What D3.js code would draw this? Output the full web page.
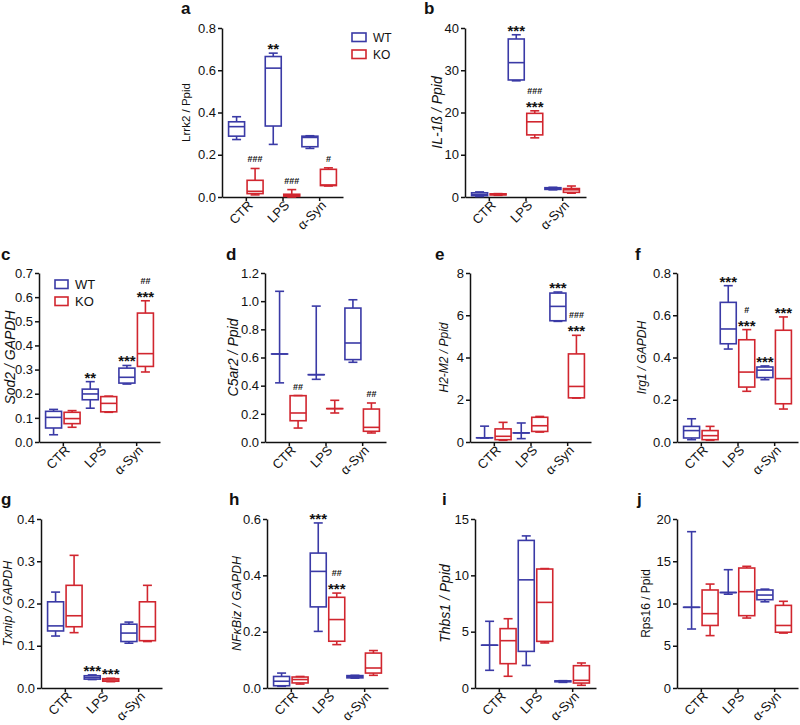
<!DOCTYPE html>
<html><head><meta charset="utf-8">
<script src="https://cdn.jsdelivr.net/npm/d3@7"></script>
<style>
body{margin:0;background:#fff;}
svg{display:block;font-family:"Liberation Sans",Arial,sans-serif;}
</style></head>
<body>
<svg id="chart" width="800" height="725"></svg>
<script>
// ---------- DATA ----------
const categories = ["CTR", "LPS", "α-Syn"];
const series = ["WT", "KO"];
const panelLetters = ["a","b","c","d","e","f","g","h","i","j"];
const yLabels = ["Lrrk2 / Ppid","IL-1ß  /  Ppid","Sod2 / GAPDH","C5ar2 / Ppid","H2-M2 / Ppid",
                 "Irg1 / GAPDH","Txnip / GAPDH","NFκBiz / GAPDH","Thbs1 / Ppid","Rps16 / Ppid"];
// each box: [min, q1, median, q3, max] for CTR, LPS, α-Syn
const lrrk2WT  = [[0.272,0.288,0.333,0.356,0.38],[0.249,0.336,0.61,0.665,0.681],[0.23,0.238,0.282,0.288,0.29]];
const lrrk2KO  = [[0.01,0.016,0.027,0.079,0.135],[0.0,0.003,0.008,0.013,0.035],[0.052,0.054,0.057,0.131,0.138]];
const il1bWT   = [[0.1,0.3,0.6,1.0,1.2],[27.5,27.7,31.8,37.4,38.4],[1.7,1.8,2.0,2.2,2.3]];
const il1bKO   = [[0.4,0.5,0.6,0.75,0.8],[14.0,14.7,17.8,19.8,20.4],[0.9,1.1,1.7,2.0,2.6]];
const sod2WT   = [[0.03,0.058,0.102,0.127,0.135],[0.14,0.175,0.199,0.219,0.25],[0.24,0.244,0.268,0.306,0.317]];
const sod2KO   = [[0.061,0.076,0.097,0.123,0.13],[0.123,0.125,0.16,0.188,0.19],[0.29,0.313,0.366,0.534,0.585]];
const c5ar2WT  = [[0.42,0.625,0.625,0.625,1.07],[0.445,0.478,0.478,0.478,0.965],[0.566,0.585,0.703,0.951,1.01]];
const c5ar2KO  = [[0.099,0.151,0.206,0.329,0.33],[0.206,0.237,0.237,0.237,0.296],[0.064,0.076,0.104,0.234,0.277]];
const h2m2WT   = [[0.19,0.2,0.2,0.2,0.75],[0.16,0.43,0.43,0.43,0.9],[5.71,5.74,6.42,7.05,7.1]];
const h2m2KO   = [[0.08,0.11,0.27,0.62,0.93],[0.47,0.5,0.77,1.17,1.21],[2.08,2.09,2.63,4.17,5.05]];
const irg1WT   = [[0.011,0.019,0.054,0.074,0.11],[0.44,0.465,0.535,0.661,0.74],[0.295,0.305,0.34,0.355,0.36]];
const irg1KO   = [[0.008,0.011,0.03,0.054,0.074],[0.24,0.26,0.331,0.484,0.532],[0.156,0.181,0.30,0.529,0.592]];
const txnipWT  = [[0.123,0.135,0.147,0.204,0.227],[0.02,0.021,0.025,0.029,0.031],[0.106,0.11,0.13,0.151,0.156]];
const txnipKO  = [[0.131,0.145,0.171,0.243,0.314],[0.015,0.016,0.019,0.022,0.023],[0.11,0.112,0.145,0.204,0.243]];
const nfkbizWT = [[0.006,0.008,0.024,0.041,0.053],[0.201,0.288,0.414,0.479,0.586],[0.035,0.036,0.04,0.044,0.045]];
const nfkbizKO = [[0.014,0.018,0.03,0.039,0.041],[0.154,0.166,0.243,0.322,0.337],[0.045,0.053,0.071,0.124,0.133]];
const thbs1WT  = [[1.57,3.8,3.8,3.8,5.92],[2.0,3.25,9.6,13.1,13.5],[0.5,0.55,0.6,0.63,0.65]];
const thbs1KO  = [[1.04,2.16,4.2,5.27,6.15],[4.0,4.14,7.6,10.56,10.6],[0.24,0.44,0.68,1.98,2.22]];
const rps16WT  = [[6.98,9.55,9.55,9.55,18.5],[11.1,11.3,11.3,11.3,14.0],[10.2,10.45,11.0,11.6,11.7]];
const rps16KO  = [[6.2,7.4,8.8,11.6,12.3],[8.28,8.56,11.4,14.2,14.4],[6.5,6.6,7.4,9.78,10.26]];
// y tick labels
const ticksA = [0,0.2,0.4,0.6,0.8];
const ticksB = [0,10,20,30,40];
const ticksC = [0,0.1,0.2,0.3,0.4,0.5,0.6,0.7];
const ticksD = [0,0.2,0.4,0.6,0.8,1.0,1.2];
const ticksE = [0,2,4,6,8];
const ticksF = [0,0.2,0.4,0.6,0.8];
const ticksG = [0,0.1,0.2,0.3,0.4];
const ticksH = [0,0.2,0.4,0.6];
const ticksI = [0,5,10,15];
const ticksJ = [0,5,10,15,20];
// significance marks: [category index, series index, marks from top to bottom]
const marksA = [[1,0,["**"]],[0,1,["###"]],[1,1,["###"]],[2,1,["#"]]];
const marksB = [[1,0,["***"]],[1,1,["###","***"]]];
const marksC = [[1,0,["**"]],[2,0,["***"]],[2,1,["##","***"]]];
const marksD = [[0,1,["##"]],[2,1,["##"]]];
const marksE = [[2,0,["***"]],[2,1,["###","***"]]];
const marksF = [[1,0,["***"]],[1,1,["#","***"]],[2,0,["***"]],[2,1,["***"]]];
const marksG = [[1,0,["***"]],[1,1,["***"]]];
const marksH = [[1,0,["***"]],[1,1,["##","***"]]];
const marksI = [];
const marksJ = [];

// ---------- LAYOUT ----------
const colors = {WT:"#3a3aa6", KO:"#d1262f"};
const panels = [
 {wt:lrrk2WT, ko:lrrk2KO, ticks:ticksA, fmt:".1f", marks:marksA, x0:222, x1:343, top:28,  bottom:197, lx:181, ly:14,  labX:190, labSize:11.5, italic:false},
 {wt:il1bWT,  ko:il1bKO,  ticks:ticksB, fmt:"d",   marks:marksB, x0:465, x1:586, top:28,  bottom:197, lx:424, ly:14,  labX:442, labSize:14,   italic:true},
 {wt:sod2WT,  ko:sod2KO,  ticks:ticksC, fmt:".1f", marks:marksC, x0:39,  x1:160, top:273, bottom:442, lx:1,   ly:260, labX:15,  labSize:14,   italic:true},
 {wt:c5ar2WT, ko:c5ar2KO, ticks:ticksD, fmt:".1f", marks:marksD, x0:265, x1:386, top:273, bottom:442, lx:226, ly:260, labX:238, labSize:14,   italic:true},
 {wt:h2m2WT,  ko:h2m2KO,  ticks:ticksE, fmt:"d",   marks:marksE, x0:470, x1:591, top:273, bottom:442, lx:435, ly:260, labX:448, labSize:12,   italic:true},
 {wt:irg1WT,  ko:irg1KO,  ticks:ticksF, fmt:".1f", marks:marksF, x0:677, x1:798, top:273, bottom:442, lx:635, ly:260, labX:646, labSize:12,   italic:true},
 {wt:txnipWT, ko:txnipKO, ticks:ticksG, fmt:".1f", marks:marksG, x0:41,  x1:162, top:519, bottom:688, lx:1,   ly:505, labX:12,  labSize:12.5, italic:true},
 {wt:nfkbizWT,ko:nfkbizKO,ticks:ticksH, fmt:".1f", marks:marksH, x0:267, x1:388, top:519, bottom:688, lx:229, ly:505, labX:241, labSize:12.5, italic:true},
 {wt:thbs1WT, ko:thbs1KO, ticks:ticksI, fmt:"d",   marks:marksI, x0:475, x1:596, top:519, bottom:688, lx:442, ly:505, labX:450, labSize:14,   italic:true},
 {wt:rps16WT, ko:rps16KO, ticks:ticksJ, fmt:"d",   marks:marksJ, x0:677, x1:798, top:519, bottom:688, lx:637, ly:505, labX:650, labSize:12,   italic:false}
];

const svg = d3.select("#chart");
const boxW = 16, capW = 9, off = 9.25;

panels.forEach((p, i) => {
  const g = svg.append("g");
  const y = d3.scaleLinear().domain([0, d3.max(p.ticks)]).range([p.bottom, p.top]);
  const x = d3.scalePoint().domain(categories).range([p.x0, p.x1]).padding(0.65);

  // y axis
  const ya = g.append("g").attr("transform", `translate(${p.x0},0)`)
    .call(d3.axisLeft(y).tickValues(p.ticks).tickFormat(d3.format(p.fmt)).tickSize(4).tickSizeOuter(0));
  ya.select(".domain").attr("stroke","#111").attr("stroke-width",1.5);
  ya.selectAll(".tick line").attr("stroke","#111").attr("stroke-width",1.5);
  ya.selectAll(".tick text").attr("font-size",13).attr("fill","#111").attr("x",-6)
    .attr("font-family","Liberation Sans, Arial, sans-serif");

  // x axis
  const xa = g.append("g").attr("transform", `translate(0,${p.bottom})`)
    .call(d3.axisBottom(x).tickSize(4).tickSizeOuter(0));
  xa.select(".domain").attr("stroke","#111").attr("stroke-width",1.5);
  xa.selectAll(".tick line").attr("stroke","#111").attr("stroke-width",1.5);
  xa.selectAll(".tick text").attr("font-size",13).attr("fill","#111")
    .attr("font-family","Liberation Sans, Arial, sans-serif")
    .attr("text-anchor","end").attr("x",0).attr("y",0).attr("dy","0.35em")
    .attr("transform","translate(4,6) rotate(-45)");

  // panel letter
  g.append("text").attr("x", p.lx).attr("y", p.ly).text(panelLetters[i])
    .attr("font-size",17).attr("font-weight","bold").attr("fill","#111");

  // y label
  g.append("text").attr("transform", `translate(${p.labX},${(p.top+p.bottom)/2}) rotate(-90)`)
    .attr("text-anchor","middle").attr("font-size",p.labSize)
    .attr("font-style", p.italic ? "italic" : "normal").attr("fill","#111")
    .text(yLabels[i]);

  // boxes
  [p.wt, p.ko].forEach((arr, si) => {
    const col = colors[series[si]];
    arr.forEach((d, ci) => {
      const cx = x(categories[ci]) + (si === 0 ? -off : off);
      const [mn, q1, md, q3, mx] = d;
      const bg = g.append("g").attr("stroke", col).attr("stroke-width",1.6).attr("fill","none");
      bg.append("line").attr("x1",cx).attr("x2",cx).attr("y1",y(mx)).attr("y2",y(q3));
      bg.append("line").attr("x1",cx).attr("x2",cx).attr("y1",y(q1)).attr("y2",y(mn));
      bg.append("line").attr("x1",cx-capW/2).attr("x2",cx+capW/2).attr("y1",y(mx)).attr("y2",y(mx));
      bg.append("line").attr("x1",cx-capW/2).attr("x2",cx+capW/2).attr("y1",y(mn)).attr("y2",y(mn));
      bg.append("rect").attr("x",cx-boxW/2).attr("width",boxW)
        .attr("y",y(q3)).attr("height",Math.max(0.01, y(q1)-y(q3)));
      bg.append("line").attr("x1",cx-boxW/2).attr("x2",cx+boxW/2).attr("y1",y(md)).attr("y2",y(md));
    });
  });

  // significance marks
  p.marks.forEach(([ci, si, list]) => {
    const arr = si === 0 ? p.wt : p.ko;
    const cx = x(categories[ci]) + (si === 0 ? -off : off);
    let cur = y(arr[ci][4]);
    list.slice().reverse().forEach(m => {
      let base;
      if (m[0] === "*") { base = cur + 1; cur = base - 12;
        g.append("text").attr("x",cx).attr("y",base).attr("text-anchor","middle")
         .attr("font-size",15).attr("font-weight","bold").attr("fill","#111").text(m);
      } else { base = cur - 6; cur = base - 7;
        g.append("text").attr("x",cx).attr("y",base).attr("text-anchor","middle")
         .attr("font-size",9).attr("font-weight","bold").attr("fill","#111").text(m);
      }
    });
  });
});

// legends
function legend(x0, y0, gap, size, bw, bh) {
  const lg = svg.append("g");
  series.forEach((s, k) => {
    lg.append("rect").attr("x",x0).attr("y",y0 + k*gap).attr("width",bw).attr("height",bh)
      .attr("fill","none").attr("stroke",colors[s]).attr("stroke-width",1.6);
    lg.append("text").attr("x",x0+bw+7).attr("y",y0 + k*gap + bh).attr("font-size",size)
      .attr("fill","#111").text(s);
  });
}
legend(352, 33, 17, 12, 14, 8.5);
legend(55, 280, 17, 13, 13, 8.5);
</script>
</body></html>
